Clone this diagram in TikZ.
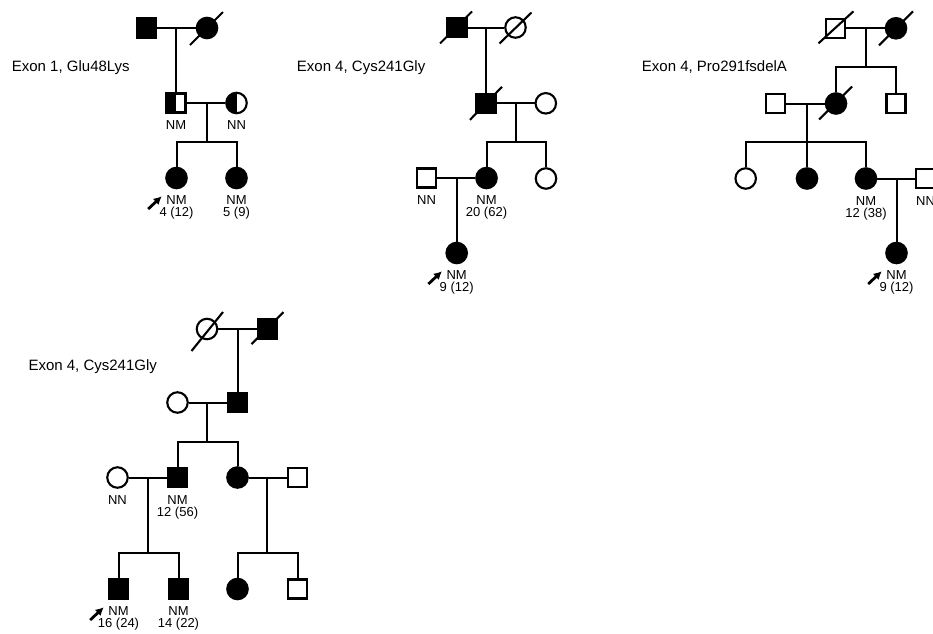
\documentclass[tikz,border=0pt]{standalone}
\usepackage{fontspec}
\setmainfont{Liberation Sans}
\usetikzlibrary{calc,arrows.meta}

\begin{document}
\begin{tikzpicture}[x=1pt,y=-1pt,
  conn/.style={line width=2pt},
  ind/.style={draw, line width=2.1pt, inner sep=0pt, fill=white},
  sq/.style={ind, rectangle, minimum size=19pt},
  ci/.style={ind, circle, minimum size=20.5pt},
  aff/.style={fill=black},
  lefthalf/.style={path picture={\fill[black] (path picture bounding box.south west) rectangle (path picture bounding box.north);}},
  slash/.style={line width=2.1pt},
  lbl/.style={font=\fontsize{13}{13}\selectfont, anchor=base, inner sep=0pt},
  ttl/.style={font=\fontsize{15}{15}\selectfont, anchor=base west, inner sep=0pt},
  proband/.style={line width=2.8pt, -{Latex[length=8pt,width=8.5pt]}}
]
\useasboundingbox (0,0) rectangle (933,633);
\fill[white] (0,0) rectangle (933,633);
\clip (0,0) rectangle (933,633);

% ---------- Family 1: Exon 1, Glu48Lys ----------
\node[ttl] (T1) at (11.7,71) {Exon 1, Glu48Lys};
\node[sq,aff] (A1) at (146.7,28) {};
\node[ci,aff] (A2) at (207,28) {};
\node[sq,lefthalf] (A3) at (176,103) {};
\node[ci,lefthalf] (A4) at (236.5,103) {};
\node[ci,aff] (A5) at (176.5,178) {};
\node[ci,aff] (A6) at (236.5,178) {};
\coordinate (mA1) at (176,28);
\coordinate (mA2) at (207.3,103);
\coordinate (sA2) at (207.3,141.7);
\draw[conn] (A1) -- (A2);
\draw[conn] (mA1) -- (A3);
\draw[conn] (A3) -- (A4);
\draw[conn] (mA2) -- (sA2);
\draw[conn] (A5) -- (A5 |- sA2) -- (A6 |- sA2) -- (A6);
\draw[slash] ($(A2)+(-17,17)$) -- ($(A2)+(16,-16)$);
\node[lbl] (A3a) at ($(A3)+(0,26.6)$) {NM};
\node[lbl] (A4a) at ($(A4)+(0,26.6)$) {NN};
\node[lbl] (A5a) at ($(A5)+(0,26.6)$) {NM};
\node[lbl] (A5b) at ($(A5)+(0,38.6)$) {4 (12)};
\node[lbl] (A6a) at ($(A6)+(0,26.6)$) {NM};
\node[lbl] (A6b) at ($(A6)+(0,38.6)$) {5 (9)};
\coordinate (pA) at ($(A5)+(-28.3,31)$);
\coordinate (qA) at ($(A5)+(-14.8,18.3)$);
\draw[proband] (pA) -- (qA);

% ---------- Family 2: Exon 4, Cys241Gly ----------
\node[ttl] (T2) at (296.7,71) {Exon 4, Cys241Gly};
\node[sq,aff] (B1) at (457,27.5) {};
\node[ci] (B2) at (515.5,27.5) {};
\node[sq,aff] (B3) at (486,103.3) {};
\node[ci] (B4) at (545.8,103.3) {};
\node[ci,aff] (B5) at (486.5,178) {};
\node[ci] (B6) at (546,178.5) {};
\node[sq] (B7) at (426.5,178) {};
\node[ci,aff] (B8) at (456.7,253) {};
\coordinate (mB1) at (486,27.5);
\coordinate (mB2) at (516,103.3);
\coordinate (sB2) at (516,141.7);
\coordinate (mB3) at (456.7,178);
\draw[conn] (B1) -- (B2);
\draw[conn] (mB1) -- (B3);
\draw[conn] (B3) -- (B4);
\draw[conn] (mB2) -- (sB2);
\draw[conn] (B5) -- (B5 |- sB2) -- (B6 |- sB2) -- (B6);
\draw[conn] (B7) -- (B5);
\draw[conn] (mB3) -- (B8);
\draw[slash] ($(B1)+(-17,16)$) -- ($(B1)+(15,-16)$);
\draw[slash] ($(B2)+(-16,16)$) -- ($(B2)+(16,-15)$);
\draw[slash] ($(B3)+(-16,16.5)$) -- ($(B3)+(16,-16.5)$);
\node[lbl] (B7a) at ($(B7)+(0,26.6)$) {NN};
\node[lbl] (B5a) at ($(B5)+(0,26.6)$) {NM};
\node[lbl] (B5b) at ($(B5)+(0,38.6)$) {20 (62)};
\node[lbl] (B8a) at ($(B8)+(0,26.6)$) {NM};
\node[lbl] (B8b) at ($(B8)+(0,38.6)$) {9 (12)};
\coordinate (pB) at ($(B8)+(-28.3,31)$);
\coordinate (qB) at ($(B8)+(-14.8,18.3)$);
\draw[proband] (pB) -- (qB);

% ---------- Family 3: Exon 4, Pro291fsdelA ----------
\node[ttl] (T3) at (641.7,71) {Exon 4, Pro291fsdelA};
\node[sq] (C1) at (835.5,28.3) {};
\node[ci,aff] (C2) at (896,28.3) {};
\node[sq] (C3) at (775.5,103.5) {};
\node[ci,aff] (C4) at (836,103.5) {};
\node[sq] (C5) at (896,103.5) {};
\node[ci] (C6) at (745.7,178.5) {};
\node[ci,aff] (C7) at (807,178.5) {};
\node[ci,aff] (C8) at (866,178.5) {};
\node[sq] (C9) at (925.5,178.5) {};
\node[ci,aff] (C10) at (896.5,253) {};
\coordinate (mC1) at (866,28.3);
\coordinate (sC1) at (866,66.7);
\coordinate (mC2) at (807,103.5);
\coordinate (sC2) at (807,141.7);
\coordinate (mC3) at (896.5,178.5);
\draw[conn] (C1) -- (C2);
\draw[conn] (mC1) -- (sC1);
\draw[conn] (C4) -- (C4 |- sC1) -- (C5 |- sC1) -- (C5);
\draw[conn] (C3) -- (C4);
\draw[conn] (mC2) -- (sC2);
\draw[conn] (C6) -- (C6 |- sC2) -- (C8 |- sC2) -- (C8);
\draw[conn] (C7) -- (C7 |- sC2);
\draw[conn] (C8) -- (C9);
\draw[conn] (mC3) -- (C10);
\draw[slash] ($(C1)+(-17,15)$) -- ($(C1)+(18,-17)$);
\draw[slash] ($(C2)+(-17,17)$) -- ($(C2)+(17,-17)$);
\draw[slash] ($(C4)+(-17,16)$) -- ($(C4)+(16,-17)$);
\node[lbl] (C8a) at ($(C8)+(0,26.6)$) {NM};
\node[lbl] (C8b) at ($(C8)+(0,38.6)$) {12 (38)};
\node[lbl] (C9a) at ($(C9)+(0,26.6)$) {NN};
\node[lbl] (C10a) at ($(C10)+(0,26.6)$) {NM};
\node[lbl] (C10b) at ($(C10)+(0,38.6)$) {9 (12)};
\coordinate (pC) at ($(C10)+(-28.3,31)$);
\coordinate (qC) at ($(C10)+(-14.8,18.3)$);
\draw[proband] (pC) -- (qC);

% ---------- Family 4: Exon 4, Cys241Gly ----------
\node[ttl] (T4) at (28.3,370) {Exon 4, Cys241Gly};
\node[ci] (D1) at (207,329) {};
\node[sq,aff] (D2) at (267.5,329) {};
\node[ci] (D3) at (177.5,402.5) {};
\node[sq,aff] (D4) at (237.5,402.5) {};
\node[ci] (D5) at (117.5,477.5) {};
\node[sq,aff] (D6) at (177.5,477.5) {};
\node[ci,aff] (D7) at (237.5,477.5) {};
\node[sq] (D8) at (297.5,477.5) {};
\node[sq,aff] (D9) at (118.5,589) {};
\node[sq,aff] (D10) at (178.5,589) {};
\node[ci,aff] (D11) at (237.5,589) {};
\node[sq] (D12) at (297.5,589) {};
\coordinate (mD1) at (237.5,329);
\coordinate (mD2) at (207.3,402.5);
\coordinate (sD2) at (207.3,441.7);
\coordinate (mD3) at (148.3,477.5);
\coordinate (sD3) at (148.3,553.3);
\coordinate (mD4) at (266.7,477.5);
\coordinate (sD4) at (266.7,553.3);
\draw[conn] (D1) -- (D2);
\draw[conn] (mD1) -- (D4);
\draw[conn] (D3) -- (D4);
\draw[conn] (mD2) -- (sD2);
\draw[conn] (D6) -- (D6 |- sD2) -- (D7 |- sD2) -- (D7);
\draw[conn] (D5) -- (D6);
\draw[conn] (D7) -- (D8);
\draw[conn] (mD3) -- (sD3);
\draw[conn] (D9) -- (D9 |- sD3) -- (D10 |- sD3) -- (D10);
\draw[conn] (mD4) -- (sD4);
\draw[conn] (D11) -- (D11 |- sD4) -- (D12 |- sD4) -- (D12);
\draw[slash] ($(D1)+(-15.5,22)$) -- ($(D1)+(16,-17)$);
\draw[slash] ($(D2)+(-16,15)$) -- ($(D2)+(16,-17)$);
\node[lbl] (D5a) at ($(D5)+(0,26.6)$) {NN};
\node[lbl] (D6a) at ($(D6)+(0,26.6)$) {NM};
\node[lbl] (D6b) at ($(D6)+(0,38.6)$) {12 (56)};
\node[lbl] (D9a) at ($(D9)+(0,26.6)$) {NM};
\node[lbl] (D9b) at ($(D9)+(0,38.6)$) {16 (24)};
\node[lbl] (D10a) at ($(D10)+(0,26.6)$) {NM};
\node[lbl] (D10b) at ($(D10)+(0,38.6)$) {14 (22)};
\coordinate (pD) at ($(D9)+(-28.3,31)$);
\coordinate (qD) at ($(D9)+(-14.8,18.3)$);
\draw[proband] (pD) -- (qD);
\end{tikzpicture}
\end{document}
